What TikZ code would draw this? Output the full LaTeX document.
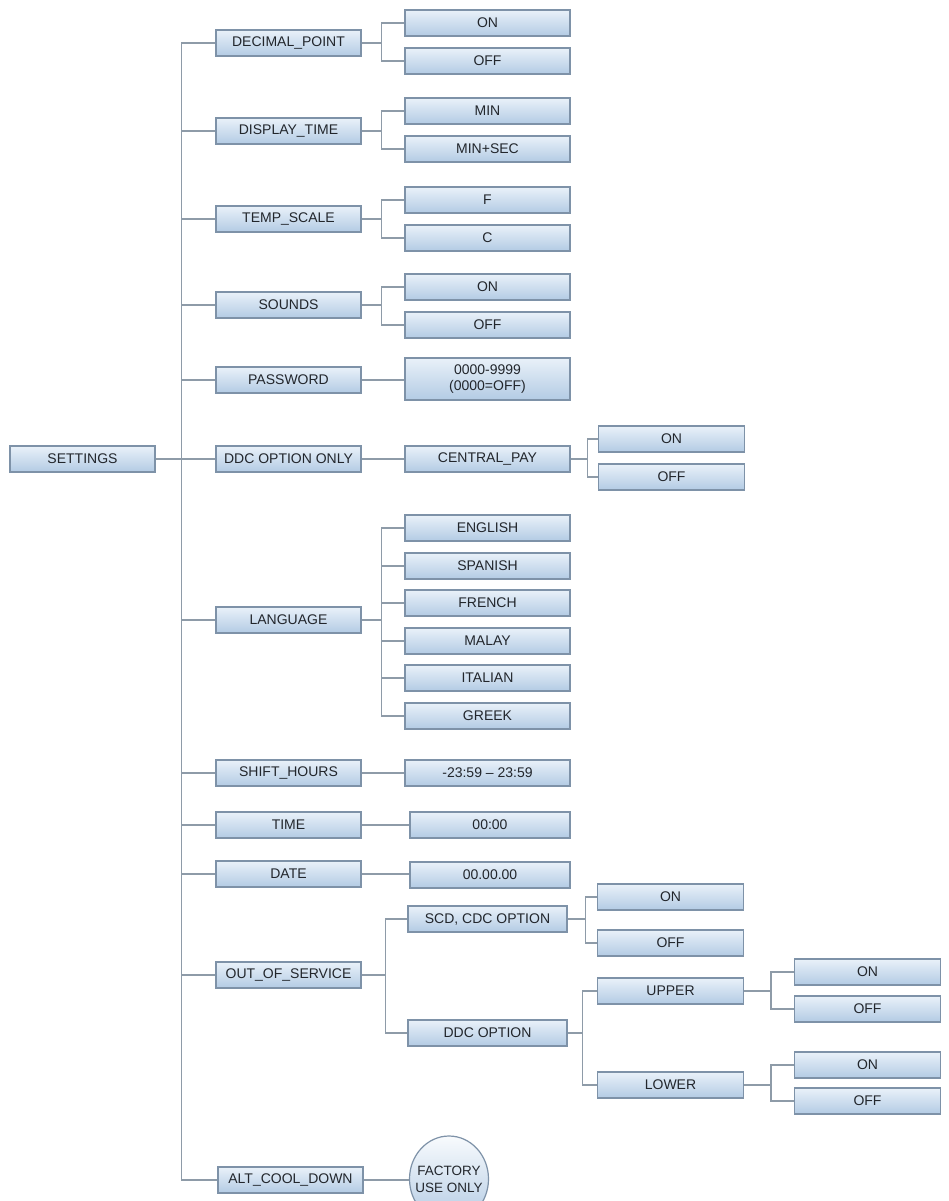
\documentclass[tikz,border=0pt]{standalone}
\usepackage{fontspec}
\setmainfont{Liberation Sans}
\usetikzlibrary{calc,shapes.geometric}
\definecolor{bd}{HTML}{7E92A8}
\definecolor{ln}{HTML}{8E9BA8}
\definecolor{tp}{HTML}{E9F1F9}
\definecolor{bt}{HTML}{B3CBE4}
\definecolor{tx}{HTML}{22262C}
\begin{document}
\begin{tikzpicture}[x=1pt,y=-1pt,
  box/.style={draw=bd, line width=1.2pt, top color=tp, bottom color=bt,
    minimum height=26pt, inner sep=0pt, text=tx, align=center,
    font=\fontsize{14}{16}\selectfont},
  wa/.style={box, minimum width=145pt},
  wb/.style={box, minimum width=165pt},
  wc/.style={box, minimum width=146pt},
  wd/.style={box, minimum width=159pt},
  conn/.style={draw=ln, line width=1.4pt}]
\useasboundingbox (0,0) rectangle (948,1201);
\clip (0,0) rectangle (948,1201);
\fill[white] (0,0) rectangle (948,1201);

% root
\node[wa] (settings) at (82.5,459) {SETTINGS};

% level 1
\node[wa] (dp)  at (288.5,43)   {DECIMAL\_POINT};
\node[wa] (dti) at (288.5,131)  {DISPLAY\_TIME};
\node[wa] (ts)  at (288.5,219)  {TEMP\_SCALE};
\node[wa] (so)  at (288.5,305)  {SOUNDS};
\node[wa] (pw)  at (288.5,380)  {PASSWORD};
\node[wa] (ddc) at (288.5,459)  {DDC OPTION ONLY};
\node[wa] (lg)  at (288.5,620)  {LANGUAGE};
\node[wa] (sh)  at (288.5,773)  {SHIFT\_HOURS};
\node[wa] (tm)  at (288.5,825)  {TIME};
\node[wa] (da)  at (288.5,874)  {DATE};
\node[wa] (os)  at (288.5,975)  {OUT\_OF\_SERVICE};
\node[wa] (alt) at (290.5,1180) {ALT\_COOL\_DOWN};

% level 2
\node[wb] (dp1) at (487.5,23)  {ON};
\node[wb] (dp2) at (487.5,61)  {OFF};
\node[wb] (dt1) at (487.5,111) {MIN};
\node[wb] (dt2) at (487.5,149) {MIN+SEC};
\node[wb] (ts1) at (487.5,200) {F};
\node[wb] (ts2) at (487.5,238) {C};
\node[wb] (so1) at (487.5,287) {ON};
\node[wb] (so2) at (487.5,325) {OFF};
\node[wb, minimum height=42pt] (pw1) at (487.5,379) {0000-9999\\(0000=OFF)};
\node[wb] (cp)  at (487.5,459) {CENTRAL\_PAY};
\node[wb] (lg1) at (487.5,528) {ENGLISH};
\node[wb] (lg2) at (487.5,566) {SPANISH};
\node[wb] (lg3) at (487.5,603) {FRENCH};
\node[wb] (lg4) at (487.5,641) {MALAY};
\node[wb] (lg5) at (487.5,678) {ITALIAN};
\node[wb] (lg6) at (487.5,716) {GREEK};
\node[wb] (sh1) at (487.5,773) {-23:59 -- 23:59};
\node[box, minimum width=160pt] (tm1) at (490,825) {00:00};
\node[box, minimum width=160pt] (da1) at (490,875) {00.00.00};
\node[wd] (scd) at (487.5,919)  {SCD, CDC OPTION};
\node[wd] (dop) at (487.5,1033) {DDC OPTION};

% level 3
\node[wc] (cp1) at (671.5,439) {ON};
\node[wc] (cp2) at (671.5,477) {OFF};
\node[wc] (sc1) at (670.5,897) {ON};
\node[wc] (sc2) at (670.5,943) {OFF};
\node[wc] (up)  at (670.5,991) {UPPER};
\node[wc] (lo)  at (670.5,1085) {LOWER};

% level 4
\node[wc] (up1) at (867.5,972)  {ON};
\node[wc] (up2) at (867.5,1009) {OFF};
\node[wc] (lo1) at (867.5,1065) {ON};
\node[wc] (lo2) at (867.5,1101) {OFF};

% factory ellipse
\node[ellipse, draw=bd, line width=1.2pt, top color=white!70!tp, bottom color=bt,
  inner xsep=-14pt, inner ysep=-8pt, minimum width=79pt, minimum height=86pt,
  align=center, text=tx, font=\fontsize{13.5}{17}\selectfont] (fac) at (449,1179) {FACTORY\\USE ONLY};

% trunk connectors
\foreach \n in {dp,dti,ts,so,pw,ddc,lg,sh,tm,da,os,alt}
  \draw[conn] (settings.east) -- ++(26,0) |- (\n.west);

% level 1 -> level 2
\draw[conn] (dp.east) -- ++(20,0) |- (dp1.west);
\draw[conn] (dp.east) -- ++(20,0) |- (dp2.west);
\draw[conn] (dti.east) -- ++(20,0) |- (dt1.west);
\draw[conn] (dti.east) -- ++(20,0) |- (dt2.west);
\draw[conn] (ts.east) -- ++(20,0) |- (ts1.west);
\draw[conn] (ts.east) -- ++(20,0) |- (ts2.west);
\draw[conn] (so.east) -- ++(20,0) |- (so1.west);
\draw[conn] (so.east) -- ++(20,0) |- (so2.west);
\draw[conn] (pw.east) -- (pw.east -| pw1.west);
\draw[conn] (ddc.east) -- (cp.west);
\foreach \k in {1,...,6}
  \draw[conn] (lg.east) -- ++(20,0) |- (lg\k.west);
\draw[conn] (sh.east) -- (sh1.west);
\draw[conn] (tm.east) -- (tm1.west);
\draw[conn] (da.east) -- (da.east -| da1.west);
\draw[conn] (os.east) -- ++(24,0) |- (scd.west);
\draw[conn] (os.east) -- ++(24,0) |- (dop.west);
\draw[conn] (alt.east) -- (alt.east -| fac.west);

% level 2 -> level 3
\draw[conn] (cp.east) -- ++(17,0) |- (cp1.west);
\draw[conn] (cp.east) -- ++(17,0) |- (cp2.west);
\draw[conn] (scd.east) -- ++(18,0) |- (sc1.west);
\draw[conn] (scd.east) -- ++(18,0) |- (sc2.west);
\draw[conn] (dop.east) -- ++(15,0) |- (up.west);
\draw[conn] (dop.east) -- ++(15,0) |- (lo.west);

% level 3 -> level 4
\draw[conn] (up.east) -- ++(27,0) |- (up1.west);
\draw[conn] (up.east) -- ++(27,0) |- (up2.west);
\draw[conn] (lo.east) -- ++(27,0) |- (lo1.west);
\draw[conn] (lo.east) -- ++(27,0) |- (lo2.west);
\end{tikzpicture}
\end{document}
